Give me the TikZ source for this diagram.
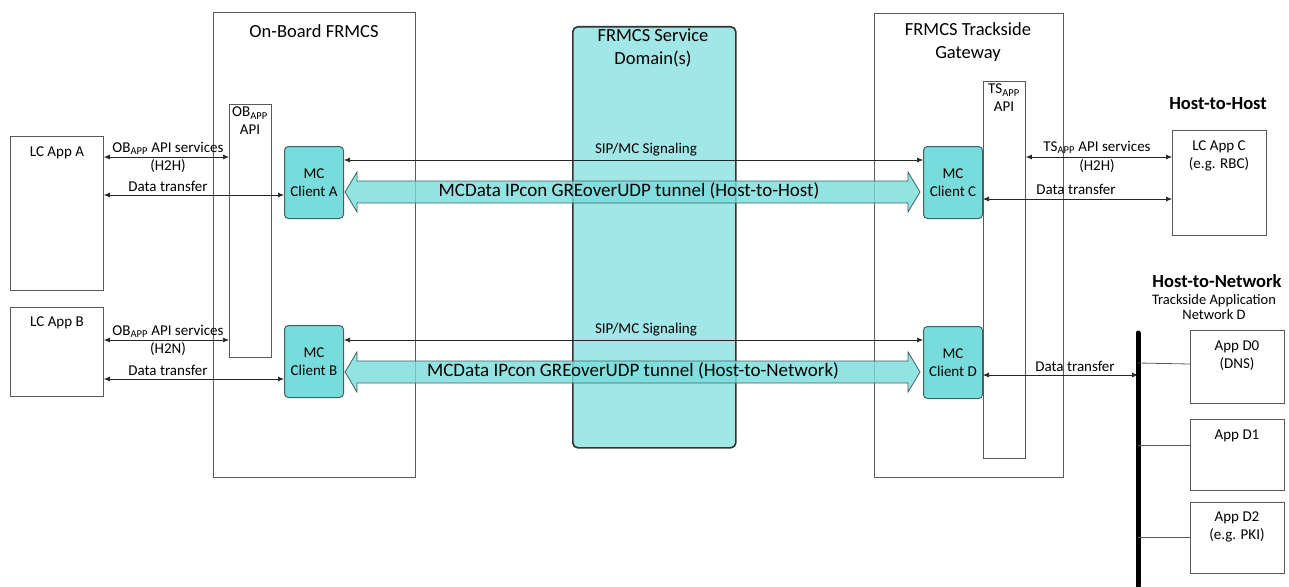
\documentclass[tikz,border=0pt]{standalone}
\usepackage{fontspec}
\setmainfont{Carlito}
\usetikzlibrary{arrows.meta,calc}
\definecolor{tun}{HTML}{78DCDC}
\definecolor{dom}{HTML}{A2E7E7}
\definecolor{edge}{HTML}{5A5A5A}
\definecolor{cedge}{HTML}{3C6464}
\begin{document}
\begin{tikzpicture}[x=1pt,y=-1pt,
  box/.style={draw=edge,line width=0.9pt,inner sep=0pt,anchor=north west},
  client/.style={draw=cedge,fill=tun,line width=1pt,rounded corners=4pt,inner sep=0pt,anchor=north west,minimum width=59pt,minimum height=72pt,align=center,font=\fontsize{15}{18.5}\selectfont},
  lbl/.style={inner sep=0pt,align=center,font=\fontsize{15}{18}\selectfont},
  ttl/.style={inner sep=0pt,align=center,font=\fontsize{18.5}{22.5}\selectfont},
  hd/.style={inner sep=0pt,align=center,font=\fontsize{18.5}{20}\selectfont\bfseries},
  tuntxt/.style={inner sep=0pt,font=\fontsize{19}{20}\selectfont},
  dbl/.style={draw=black!85,line width=0.7pt,{Latex[length=6pt,width=5pt]}-{Latex[length=6pt,width=5pt]}},
  tunnel/.style={draw=cedge,line width=0.8pt,fill=tun,fill opacity=0.8},
  plain/.style={draw=edge,line width=0.8pt}]
\useasboundingbox (0,0) rectangle (1289,586);

% service domain
\node[draw=black!80,fill=dom,line width=1.6pt,rounded corners=5pt,inner sep=0pt,anchor=north west,minimum width=163pt,minimum height=421pt] (dom) at (572,26) {};
\node[ttl] (domt) at (653,48) {FRMCS Service\\Domain(s)};

% outer boxes
\node[box,minimum width=202pt,minimum height=465pt] (ob) at (213,12) {};
\node[ttl] (obt) at (314,31) {On-Board FRMCS};
\node[box,minimum width=189pt,minimum height=464pt] (ts) at (874,13) {};
\node[ttl] (tst) at (968,42) {FRMCS Trackside\\Gateway};

% API boxes
\node[box,minimum width=42pt,minimum height=253pt] (obapi) at (229,104) {};
\node[lbl] (obapit) at (250,121) {OB\textsubscript{APP}\\API};
\node[box,minimum width=42pt,minimum height=377pt] (tsapi) at (983,81) {};
\node[lbl] (tsapit) at (1004,98) {TS\textsubscript{APP}\\API};

% LC apps
\node[box,minimum width=93pt,minimum height=154pt] (lca) at (10,136) {};
\node[lbl] (lcat) at (57,153) {LC App A};
\node[box,minimum width=93pt,minimum height=89pt] (lcb) at (10,307) {};
\node[lbl] (lcbt) at (57,323) {LC App B};
\node[box,minimum width=94pt,minimum height=105pt] (lcc) at (1172,130) {};
\node[lbl] (lcct) at (1219,156) {LC App C\\(e.g. RBC)};
\node[hd] (h2h) at (1218,104) {Host-to-Host};

% network D
\node[hd] (h2n) at (1217,281) {Host-to-Network};
\node[lbl,font=\fontsize{14.5}{14.5}\selectfont] (tan) at (1214,307) {Trackside Application\\Network D};
\node[box,minimum width=94pt,minimum height=73pt] (d0) at (1190,330) {};
\node[lbl] (d0t) at (1237,356) {App D0\\(DNS)};
\node[box,minimum width=94pt,minimum height=71pt] (d1) at (1190,419) {};
\node[lbl] (d1t) at (1237,436) {App D1};
\node[box,minimum width=94pt,minimum height=71pt] (d2) at (1190,502) {};
\node[lbl] (d2t) at (1237,527) {App D2\\(e.g. PKI)};
\coordinate (bustop) at (1138,333);
\coordinate (busbot) at (1138,586);

% tunnels
\coordinate (ta) at (345,192);
\coordinate (tc) at (920,192);
\draw[tunnel] (ta) -- ++(12,-20) -- ++(0,9) -- ($(tc)+(-12,-11)$) -- ++(0,-9) -- (tc) -- ++(-12,20) -- ++(0,-9) -- ($(ta)+(12,11)$) -- ++(0,9) -- cycle;
\node[tuntxt] (tat) at (629,191) {MCData IPcon GREoverUDP tunnel (Host-to-Host)};
\coordinate (tb) at (345,372);
\coordinate (td) at (920,372);
\draw[tunnel] (tb) -- ++(12,-20) -- ++(0,9) -- ($(td)+(-12,-11)$) -- ++(0,-9) -- (td) -- ++(-12,20) -- ++(0,-9) -- ($(tb)+(12,11)$) -- ++(0,9) -- cycle;
\node[tuntxt] (tbt) at (633,371) {MCData IPcon GREoverUDP tunnel (Host-to-Network)};

% clients
\node[client] (ca) at (284,146) {MC\\Client A};
\node[client] (cb) at (284,325) {MC\\Client B};
\node[client] (cc) at (923,146) {MC\\Client C};
\node[client] (cd) at (923,326) {MC\\Client D};

% signaling
\draw[dbl] (ca.east |- 0,160) -- (cc.west |- 0,160);
\node[lbl] (sipa) at (646,150) {SIP/MC Signaling};
\draw[dbl] (cb.east |- 0,340) -- (cd.west |- 0,340);
\node[lbl] (sipb) at (646,330) {SIP/MC Signaling};

% left connectors
\draw[dbl] (lca.east |- 0,157) -- (obapi.west |- 0,157);
\node[lbl] (apia) at (168,148) {OB\textsubscript{APP} API services};
\node[lbl] (apia2) at (168,166) {(H2H)};
\draw[dbl] (lca.east |- 0,195) -- (ca.west |- 0,195);
\node[lbl] (dta) at (168,186) {Data transfer};
\draw[dbl] (lcb.east |- 0,340) -- (obapi.west |- 0,340);
\node[lbl] (apib) at (168,331) {OB\textsubscript{APP} API services};
\node[lbl] (apib2) at (168,349) {(H2N)};
\draw[dbl] (lcb.east |- 0,379) -- (cb.west |- 0,379);
\node[lbl] (dtb) at (168,370) {Data transfer};

% right connectors
\draw[dbl] (tsapi.east |- 0,157) -- (lcc.west |- 0,157);
\node[lbl] (apic) at (1097,147) {TS\textsubscript{APP} API services};
\node[lbl] (apic2) at (1097,166) {(H2H)};
\draw[dbl] (cc.east |- 0,199) -- (lcc.west |- 0,199);
\node[lbl] (dtc) at (1076,189) {Data transfer};
\draw[dbl] (cd.east |- 0,375) -- (bustop |- 0,375);
\node[lbl] (dtd) at (1075,366) {Data transfer};

% bus
\draw[line width=5pt,line cap=round] (bustop) -- (busbot);
\draw[plain] (bustop |- 0,363) -- (d0.west |- 0,364);
\draw[plain] (bustop |- 0,445) -- (d1.west |- 0,445);
\draw[plain] (bustop |- 0,537) -- (d2.west |- 0,537);
\end{tikzpicture}
\end{document}
